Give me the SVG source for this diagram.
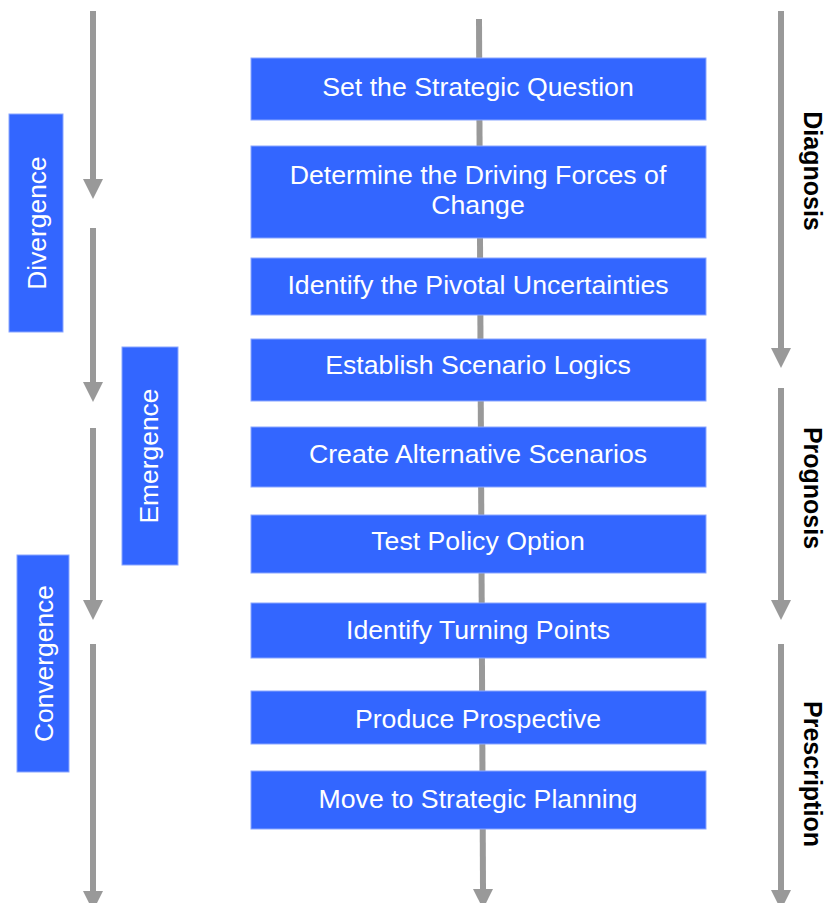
<svg xmlns="http://www.w3.org/2000/svg" width="832" height="903" viewBox="0 0 832 903">
<style>
.box{fill:#3366ff;stroke:#8aa6ff;stroke-width:1}
.t{font-family:"Liberation Sans",Arial,sans-serif;font-size:26.7px;fill:#ffffff;text-anchor:middle}
.v{font-family:"Liberation Sans",Arial,sans-serif;font-size:26.4px;fill:#ffffff;text-anchor:middle}
.lbl{font-family:"Liberation Sans",Arial,sans-serif;font-size:25px;font-weight:bold;fill:#000000;text-anchor:middle}
.ar{stroke:#999999;stroke-width:6;fill:none;marker-end:url(#ah)}
</style>
<defs>
<marker id="ah" markerUnits="userSpaceOnUse" markerWidth="20" markerHeight="20" refX="0" refY="10" orient="auto" viewBox="0 0 20 20">
<path d="M0,0 L20,10 L0,20 Z" fill="#999999"/>
</marker>
</defs>
<rect width="832" height="903" fill="#ffffff"/>
<g id="connectors">
<line class="ar" x1="479" y1="19" x2="483" y2="889"/>
<line class="ar" x1="93" y1="11" x2="93" y2="179"/>
<line class="ar" x1="93" y1="228" x2="93" y2="382"/>
<line class="ar" x1="93" y1="428" x2="93" y2="600"/>
<line class="ar" x1="93" y1="644" x2="93" y2="891"/>
<line class="ar" x1="781" y1="11" x2="781" y2="348"/>
<line class="ar" x1="781" y1="388" x2="781" y2="600"/>
<line class="ar" x1="781" y1="644" x2="781" y2="890"/>
</g>
<g id="n1"><rect class="box" x="251" y="58" width="455" height="62"/><text class="t" x="478" y="96">Set the Strategic Question</text></g>
<g id="n2"><rect class="box" x="251" y="146" width="455" height="92"/><text class="t" x="478" y="184">Determine the Driving Forces of</text><text class="t" x="478" y="214">Change</text></g>
<g id="n3"><rect class="box" x="251" y="258" width="455" height="57"/><text class="t" x="478" y="294">Identify the Pivotal Uncertainties</text></g>
<g id="n4"><rect class="box" x="251" y="339" width="455" height="62"/><text class="t" x="478" y="374">Establish Scenario Logics</text></g>
<g id="n5"><rect class="box" x="251" y="427" width="455" height="60"/><text class="t" x="478" y="463">Create Alternative Scenarios</text></g>
<g id="n6"><rect class="box" x="251" y="515" width="455" height="58"/><text class="t" x="478" y="550">Test Policy Option</text></g>
<g id="n7"><rect class="box" x="251" y="603" width="455" height="55"/><text class="t" x="478" y="639">Identify Turning Points</text></g>
<g id="n8"><rect class="box" x="251" y="691" width="455" height="53"/><text class="t" x="478" y="728">Produce Prospective</text></g>
<g id="n9"><rect class="box" x="251" y="771" width="455" height="58"/><text class="t" x="478" y="808">Move to Strategic Planning</text></g>
<g id="divergence"><rect class="box" x="9" y="114" width="54" height="218"/><text class="v" transform="translate(45.5,223) rotate(-90)">Divergence</text></g>
<g id="emergence"><rect class="box" x="122" y="347" width="56" height="218"/><text class="v" transform="translate(158,456) rotate(-90)">Emergence</text></g>
<g id="convergence"><rect class="box" x="17" y="555" width="52" height="217"/><text class="v" transform="translate(53,663.5) rotate(-90)">Convergence</text></g>
<g id="diagnosis"><text class="lbl" transform="translate(804,171) rotate(90)">Diagnosis</text></g>
<g id="prognosis"><text class="lbl" transform="translate(804,488) rotate(90)">Prognosis</text></g>
<g id="prescription"><text class="lbl" transform="translate(804,774) rotate(90)">Prescription</text></g>
</svg>
